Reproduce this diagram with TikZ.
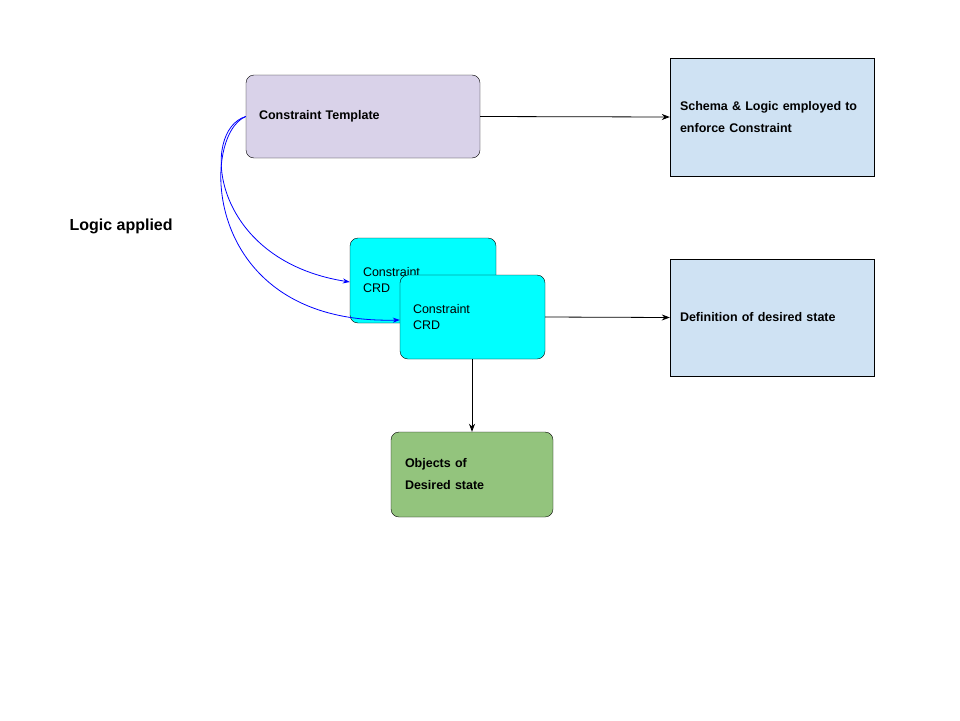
\documentclass[tikz,border=0pt]{standalone}
\usepackage{fontspec}
\setmainfont{Liberation Sans}
\usetikzlibrary{arrows.meta}
\definecolor{lavender}{HTML}{D9D2E9}
\definecolor{paleblue}{HTML}{CFE2F3}
\definecolor{crdcyan}{HTML}{00FFFF}
\definecolor{objgreen}{HTML}{93C47D}
\tikzset{
  box/.style={draw=black,inner sep=0pt,align=left,font=\fontsize{12.5}{16}\selectfont},
  arr/.style={-{Stealth[length=8pt,width=6pt]},thick},
  blue arr/.style={-{Stealth[length=7pt,width=5pt]},blue,thick}
}
\begin{document}
\begin{tikzpicture}[x=1pt,y=-1pt]
  \useasboundingbox (0,0) rectangle (960,720);
  % boxes
  \node[box,fill=lavender,rounded corners=8pt,minimum width=234pt,minimum height=83pt,text width=208pt,font=\fontsize{12.5}{16}\selectfont\bfseries]
    (tmpl) at (363,116.5) {Constraint Template};
  \node[box,fill=paleblue,minimum width=204pt,minimum height=118pt,text width=184pt,font=\fontsize{12.5}{22}\selectfont\bfseries]
    (schema) at (772,117) {Schema \& Logic employed to enforce Constraint};
  \node[box,fill=crdcyan,rounded corners=8pt,minimum width=146pt,minimum height=85pt,text width=120pt]
    (crdback) at (423,280.5) {Constraint\\CRD};
  \node[box,fill=crdcyan,rounded corners=8pt,minimum width=145pt,minimum height=84pt,text width=119pt]
    (crd) at (472.5,317) {Constraint\\CRD};
  \node[box,fill=paleblue,minimum width=204pt,minimum height=117pt,text width=184pt,font=\fontsize{12.5}{22}\selectfont\bfseries]
    (defn) at (772,317.5) {Definition of desired state};
  \node[box,fill=objgreen,rounded corners=8pt,minimum width=162pt,minimum height=85pt,text width=134pt,font=\fontsize{12.5}{22}\selectfont\bfseries]
    (objs) at (472,474.5) {Objects of\\Desired state};
  \node[anchor=west,font=\fontsize{16}{19}\selectfont\bfseries] (logic) at (66,226) {Logic applied};
  % connectors
  \draw[arr] (tmpl.east) -- (schema.west);
  \draw[arr] (crd.east) -- (defn.west);
  \draw[arr] (crd.south-|objs.north) -- (objs.north);
  \draw[blue arr] (tmpl.west) .. controls (200,130) and (210,260) .. (crdback.west|-0,282);
  \draw[blue arr] (tmpl.west) .. controls (200,135) and (200,325) .. (crd.west|-0,320);
\end{tikzpicture}
\end{document}
